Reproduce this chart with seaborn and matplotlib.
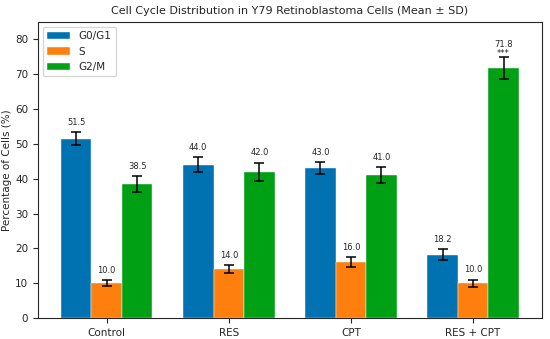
import matplotlib
matplotlib.use("Agg")
import matplotlib.pyplot as plt
import seaborn as sns
import pandas as pd

groups = ["Control", "RES", "CPT", "RES + CPT"]
phases = ["G0/G1", "S", "G2/M"]
g0g1_mean = [51.5, 44.0, 43.0, 18.2]
s_mean = [10.0, 14.0, 16.0, 10.0]
g2m_mean = [38.5, 42.0, 41.0, 71.8]
g0g1_sd = [1.9, 2.1, 1.7, 1.6]
s_sd = [0.9, 1.1, 1.4, 1.0]
g2m_sd = [2.2, 2.6, 2.3, 3.2]
colors = ["#0072B2", "#FF7F0E", "#00A014"]

means = [g0g1_mean, s_mean, g2m_mean]
sds = [g0g1_sd, s_sd, g2m_sd]
rows = []
for p, m, s in zip(phases, means, sds):
    for g, mv, sv in zip(groups, m, s):
        rows.append({"Group": g, "Phase": p, "Mean": mv, "SD": sv})
df = pd.DataFrame(rows)

sns.set_style("ticks")
plt.rcParams["font.family"] = ["DejaVu Sans"]
fig, ax = plt.subplots(figsize=(5.5, 3.39), dpi=100)
sns.barplot(data=df, x="Group", y="Mean", hue="Phase", order=groups, hue_order=phases,
            palette=colors, saturation=1, errorbar=None, width=0.75, ax=ax,
            edgecolor="#ffffff", linewidth=0.3)

for ci, (cont, m, s) in enumerate(zip(ax.containers, means, sds)):
    xs = [b.get_x() + b.get_width() / 2 for b in cont]
    ax.errorbar(xs, m, yerr=s, fmt="none", ecolor="black", elinewidth=1.1,
                capsize=3.5, capthick=1.1)
    for i, (x, mv, sv) in enumerate(zip(xs, m, s)):
        off = 2.3 if (ci == 2 and i == 3) else 1.5
        ax.text(x, mv + sv + off, f"{mv:.1f}", ha="center", va="bottom", fontsize=6)

# significance marker
last = ax.containers[2][3]
xs = last.get_x() + last.get_width() / 2
ax.text(xs, g2m_mean[3] + g2m_sd[3] - 0.2, "***", ha="center", va="bottom", fontsize=6)

ax.set_ylim(0, 85)
ax.set_xlim(-0.5625, 3.5625)
ax.set_xlabel("")
ax.set_ylabel("Percentage of Cells (%)", fontsize=7.5, labelpad=2)
ax.set_title("Cell Cycle Distribution in Y79 Retinoblastoma Cells (Mean ± SD)", fontsize=8)
ax.tick_params(labelsize=7.5, length=3.5)
for sp in ax.spines.values():
    sp.set_visible(True)
ax.legend(loc="upper left", fontsize=7.5, frameon=True, handlelength=2.2)
fig.subplots_adjust(left=0.069, right=0.985, top=0.935, bottom=0.062)
fig.savefig("out.png", dpi=100)
